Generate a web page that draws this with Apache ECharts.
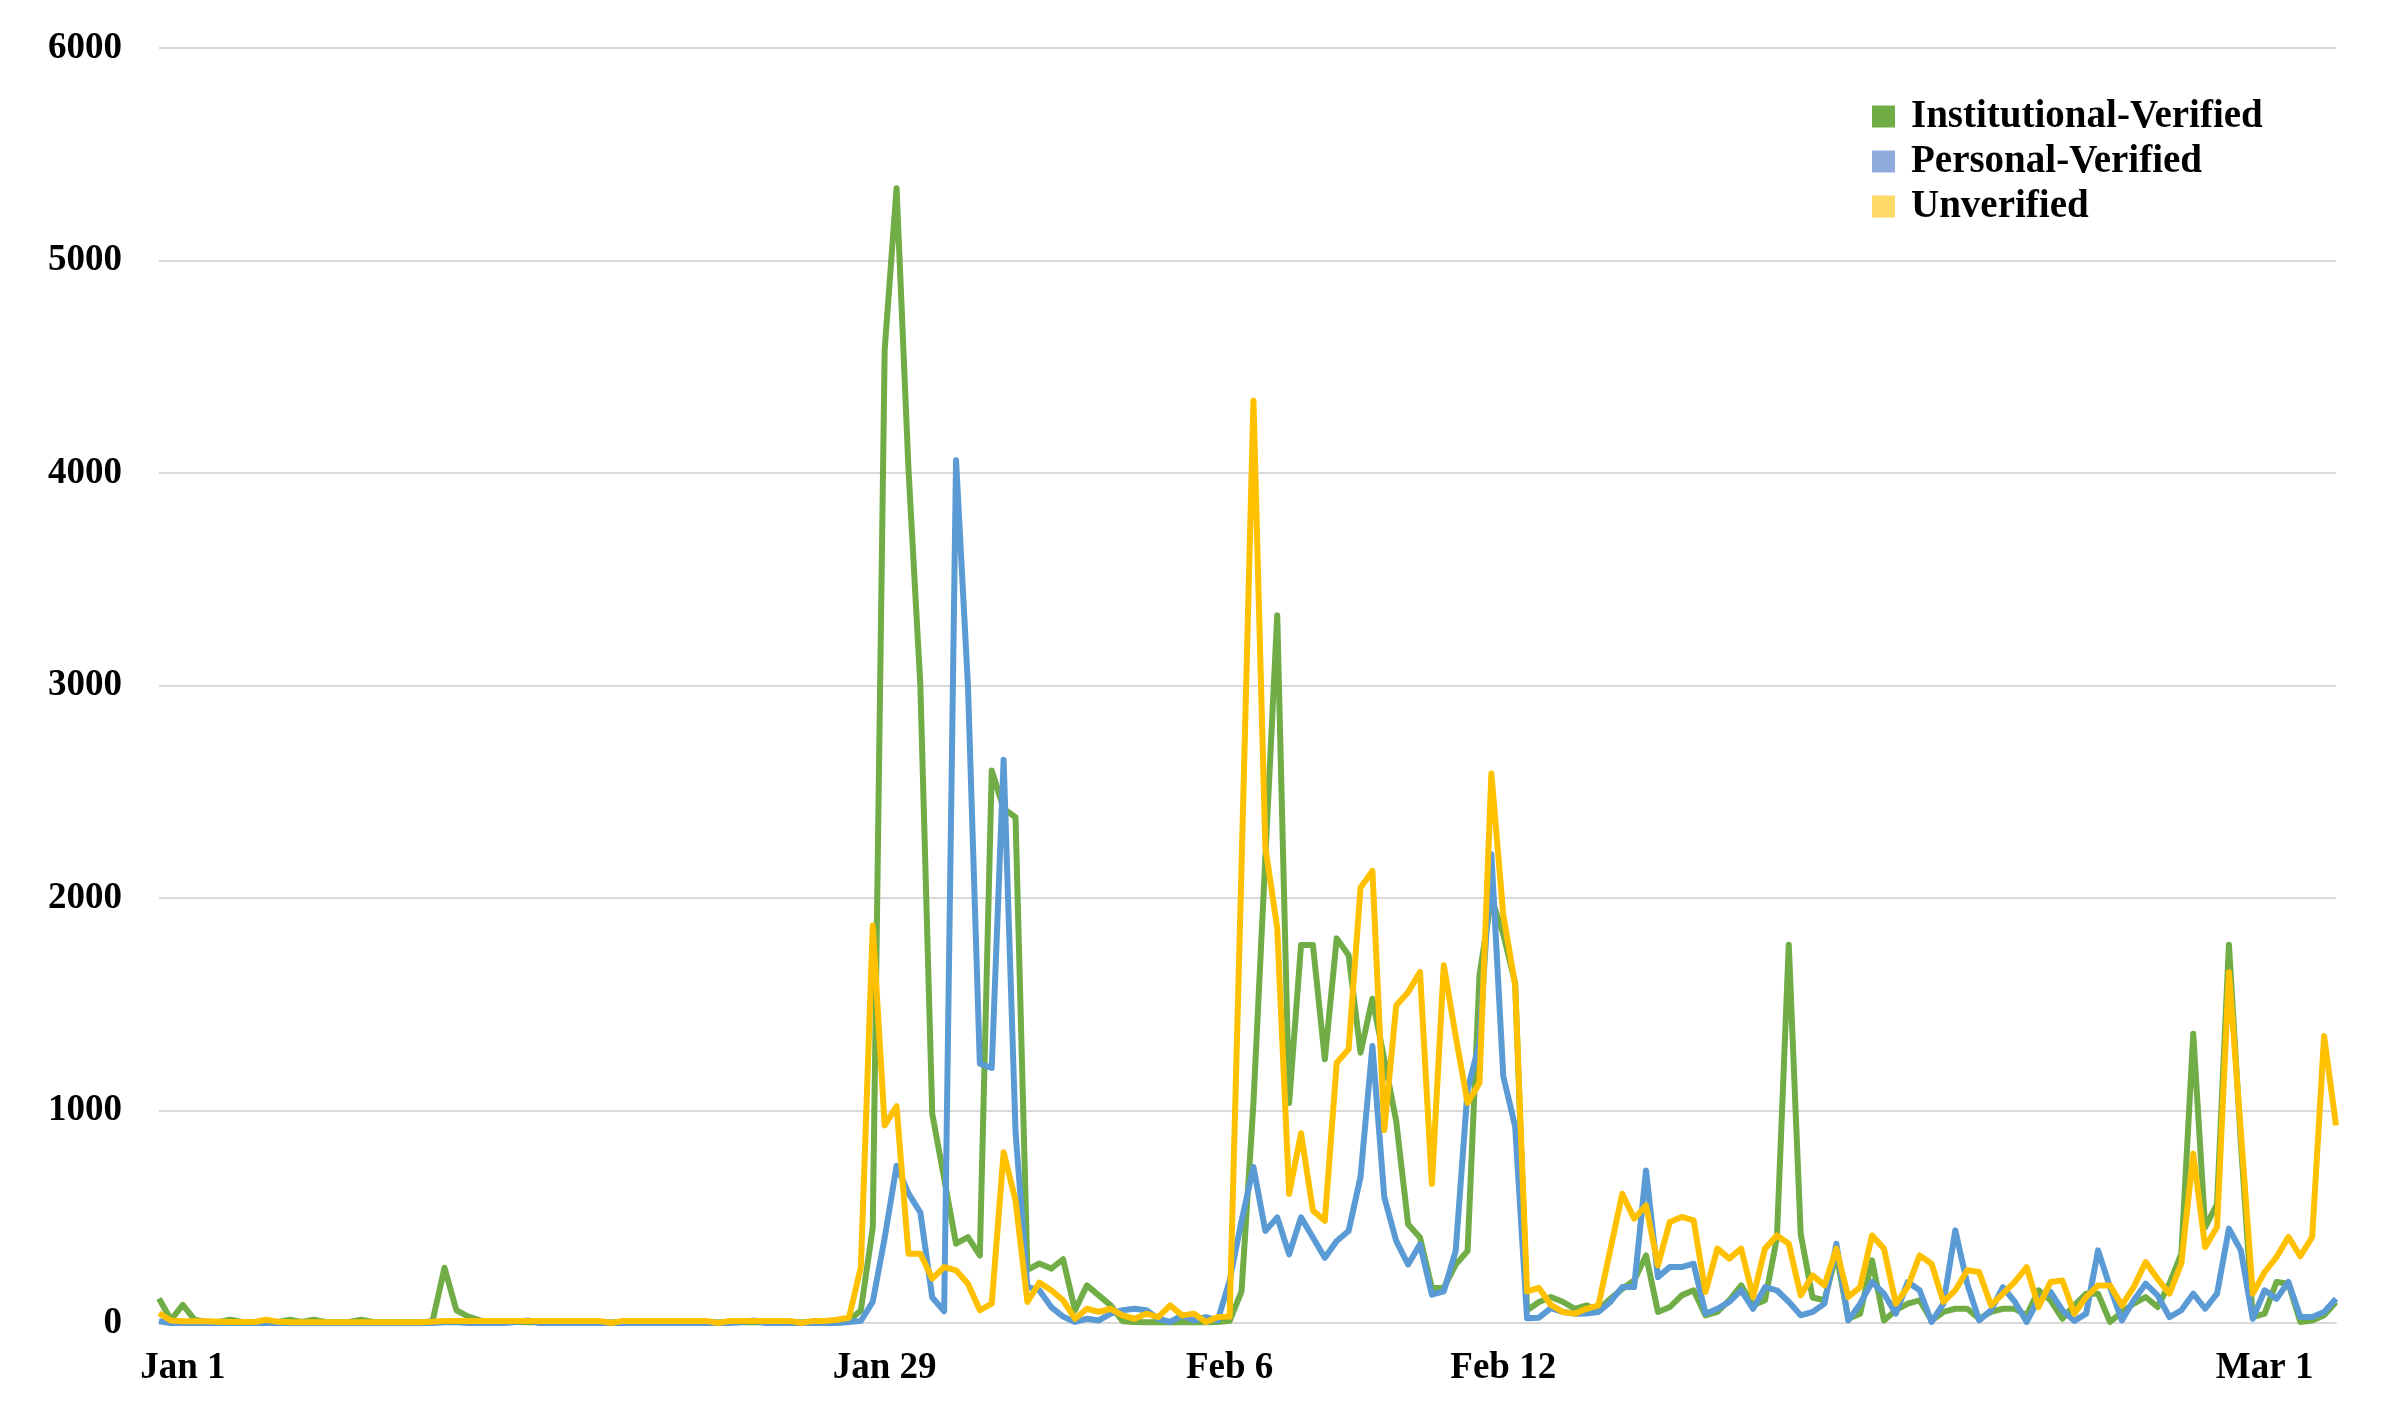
<!DOCTYPE html>
<html>
<head>
<meta charset="utf-8">
<script src="https://cdn.jsdelivr.net/npm/echarts@6/dist/echarts.min.js"></script>
<style>
  html, body { margin: 0; padding: 0; background: #ffffff; }
  #chart { width: 2384px; height: 1419px; }
</style>
</head>
<body>
<div id="chart"></div>
<script>
// ---- data ----
const seriesNames = ['Institutional-Verified', 'Personal-Verified', 'Unverified'];

const institutional = [
  115, 15, 85, 15, 5, 5, 15, 5, 3, 5,
  5, 15, 5, 15, 5, 3, 5, 15, 5, 3,
  3, 3, 3, 10, 260, 60, 30, 12, 5, 5,
  5, 3, 3, 3, 3, 3, 3, 3, 3, 3,
  3, 3, 3, 3, 3, 3, 3, 3, 3, 3,
  3, 3, 3, 3, 3, 3, 3, 5, 10, 60,
  450, 4580, 5340, 4020, 3000, 985, 680, 373, 404, 318,
  2600, 2420, 2380, 250, 280, 256, 300, 60, 177, 130,
  83, 8, 5, 3, 3, 3, 5, 3, 3, 5,
  10, 149, 1035, 2190, 3330, 1035, 1779, 1779, 1241, 1810,
  1731, 1272, 1526, 1240, 950, 465, 402, 165, 165, 275,
  339, 1636, 2000, 1830, 1600, 60, 99, 122, 100, 67,
  83, 60, 114, 160, 200, 318, 52, 75, 130, 154,
  36, 52, 107, 177, 83, 107, 400, 1780, 420, 120,
  107, 326, 20, 44, 295, 12, 60, 91, 107, 12,
  52, 67, 67, 20, 52, 67, 67, 36, 154, 107,
  20, 83, 138, 138, 5, 52, 91, 122, 75, 185,
  326, 1361, 450, 560, 1780, 850, 28, 44, 193, 185,
  5, 12, 36, 99
];

const personal = [
  8, 0, 0, 0, 0, 0, 0, 0, 0, 0,
  0, 0, 0, 0, 0, 0, 0, 0, 0, 0,
  0, 0, 0, 0, 3, 3, 0, 0, 0, 0,
  5, 12, 0, 0, 0, 0, 0, 0, 0, 0,
  0, 0, 0, 0, 0, 0, 0, 0, 0, 5,
  12, 0, 0, 0, 0, 0, 0, 0, 5, 10,
  100, 400, 740, 610, 520, 120, 55, 4060, 3000, 1220,
  1200, 2650, 900, 170, 154, 75, 30, 5, 20, 12,
  44, 60, 67, 60, 20, 5, 36, 12, 28, 12,
  200, 481, 734, 433, 497, 323, 497, 402, 307, 386,
  433, 687, 1304, 592, 386, 275, 370, 133, 149, 339,
  1098, 1320, 2206, 1162, 924, 22, 25, 70, 52, 44,
  45, 52, 99, 169, 169, 718, 216, 263, 263, 279,
  44, 67, 99, 154, 67, 169, 154, 100, 36, 52,
  91, 373, 12, 91, 193, 138, 44, 193, 154, 5,
  91, 436, 185, 12, 60, 169, 100, 5, 114, 146,
  60, 10, 44, 342, 169, 12, 107, 185, 130, 28,
  60, 138, 67, 138, 444, 342, 20, 154, 114, 193,
  28, 28, 52, 114
];

const unverified = [
  46, 12, 8, 8, 8, 6, 5, 5, 5, 15,
  6, 4, 4, 4, 4, 4, 4, 4, 4, 4,
  4, 4, 4, 6, 10, 10, 10, 10, 10, 10,
  10, 10, 10, 10, 10, 10, 10, 10, 0, 10,
  10, 10, 10, 10, 10, 10, 10, 0, 10, 10,
  10, 10, 10, 10, 0, 10, 10, 15, 25, 263,
  1870, 930, 1020, 326, 326, 209, 263, 248, 185, 60,
  91, 804, 577, 99, 190, 154, 107, 20, 67, 52,
  67, 36, 20, 44, 28, 83, 36, 44, 5, 28,
  30, 2150, 4340, 2240, 1858, 608, 893, 529, 481, 1225,
  1288, 2048, 2127, 908, 1494, 1557, 1652, 655, 1684, 1350,
  1035, 1130, 2586, 1921, 1589, 149, 165, 85, 52, 44,
  67, 83, 345, 608, 491, 553, 271, 475, 499, 483,
  146, 350, 303, 350, 122, 350, 412, 373, 130, 224,
  177, 350, 122, 169, 412, 350, 91, 169, 318, 279,
  99, 154, 248, 240, 83, 138, 193, 263, 75, 193,
  200, 44, 122, 177, 177, 83, 170, 287, 208, 138,
  280, 797, 357, 452, 1651, 900, 138, 240, 310, 405,
  314, 405, 1350, 930
];

// category slots (one per observation) and the few labelled ones
const categories = institutional.map((_, i) => String(i));
const tickIndex = [2, 61, 90, 113, 177];
const tickText = ['Jan 1', 'Jan 29', 'Feb 6', 'Feb 12', 'Mar 1'];
const yTicks = { min: 0, max: 6000, step: 1000 };

// ---- styles ----
const lineColors = ['#70AD47', '#5B9BD5', '#FFC000'];
const legendColors = ['#70AD47', '#8FAADC', '#FFD966'];
const serif = "'Liberation Serif', 'DejaVu Serif', serif";

const chart = echarts.init(document.getElementById('chart'));
const seriesData = [institutional, personal, unverified];

chart.setOption({
  animation: false,
  backgroundColor: '#ffffff',
  grid: { left: 159, right: 48, top: 48, bottom: 96, containLabel: false },
  legend: {
    orient: 'vertical',
    left: 1872,
    top: 97,
    padding: 0,
    itemWidth: 23,
    itemHeight: 22,
    itemGap: 6,
    icon: 'rect',
    data: seriesNames.map((n, k) => ({ name: n, itemStyle: { color: legendColors[k] } })),
    textStyle: {
      fontFamily: serif, fontWeight: 'bold', fontSize: 39, color: '#000',
      lineHeight: 38, padding: [0, 0, 0, 11]
    }
  },
  xAxis: {
    type: 'category',
    data: categories,
    boundaryGap: false,
    axisLine: { show: true, lineStyle: { color: '#D9D9D9', width: 2 } },
    axisTick: { show: false },
    splitLine: { show: false },
    axisLabel: {
      interval: (idx) => tickIndex.indexOf(idx) >= 0,
      formatter: (v) => { const k = tickIndex.indexOf(Number(v)); return k >= 0 ? tickText[k] : ''; },
      fontFamily: serif, fontWeight: 'bold', fontSize: 37, color: '#000', margin: 27
    }
  },
  yAxis: {
    type: 'value',
    min: yTicks.min, max: yTicks.max, interval: yTicks.step,
    axisLine: { show: false },
    axisTick: { show: false },
    splitLine: { lineStyle: { color: '#D9D9D9', width: 2 } },
    axisLabel: {
      formatter: (v) => String(v),
      fontFamily: serif, fontWeight: 'bold', fontSize: 37, color: '#000', margin: 37
    }
  },
  series: seriesNames.map((n, k) => ({
    name: n,
    type: 'line',
    data: seriesData[k],
    showSymbol: false,
    symbol: 'none',
    lineStyle: { color: lineColors[k], width: 6, join: 'round' },
    itemStyle: { color: lineColors[k] },
    z: 2 + k
  }))
});
</script>
</body>
</html>
